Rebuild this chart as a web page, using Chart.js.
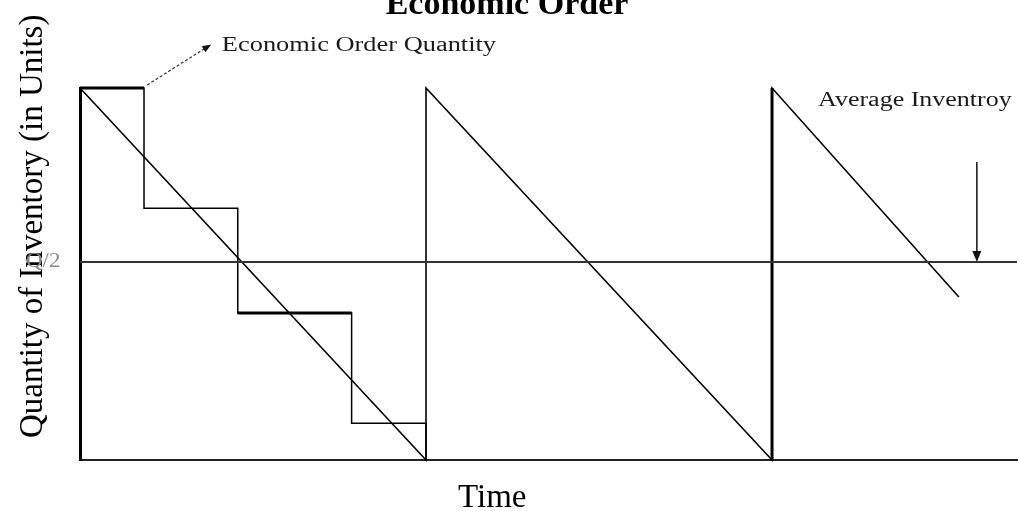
<!DOCTYPE html>
<html>
<head>
<meta charset="utf-8">
<script src="https://cdn.jsdelivr.net/npm/chart.js@4.4.0/dist/chart.umd.min.js"></script>
<style>
  html, body { margin: 0; padding: 0; background: #fff; }
  #wrap { width: 1019px; height: 511px; position: relative; }
</style>
</head>
<body>
<div id="wrap"><canvas id="myChart" width="1019" height="511"></canvas></div>
<script>
// Niveau de stock dans le temps (Q = 1)
const sawTime = [0, 1, 1, 2, 2, 2.54];
const sawLevel = [1, 0, 1, 0, 1, 0.438];

// stock par paliers pendant le premier cycle
const stepTime = [0, 0.185, 0.456, 0.785, 1];
const stepLevel = [1, 0.677, 0.395, 0.099, 0];

// morceaux plus épais des paliers
const boldTime = [0, 0.185, 0.32, 0.456, 0.785];
const boldLevel = [1, 1, null, 0.395, 0.395];

// réapprovisionnement du 2e cycle (trait épais)
const jumpTime = [2, 2];
const jumpLevel = [0, 1];

// stock moyen Q/2
const halfTime = [0, 2.708];
const halfLevel = [0.532, 0.532];

// textes
const chartTitle = "Economic Order";
const xTitle = "Time";
const yTitle = "Quantity of Inventory (in Units)";
const eoqLabel = "Economic Order Quantity";
const avgLabel = "Average Inventroy";
const halfLabel = "Q/2";

const ctx = document.querySelector("#myChart").getContext("2d");

function toPoints(xs, ys) {
  return xs.map((x, i) => ({ x: x, y: ys[i] }));
}

function wideText(c, s, x, y, sx) {
  c.save();
  c.translate(x, y);
  c.scale(sx, 1);
  c.fillText(s, 0, 0);
  c.restore();
}

// textes et flèches posés sur les échelles
const textPlugin = {
  id: "textPlugin",
  afterDraw(chart) {
    const c = chart.ctx;
    const px = (v) => chart.scales.x.getPixelForValue(v);
    const py = (v) => chart.scales.y.getPixelForValue(v);
    c.save();
    c.fillStyle = "#000";
    c.textBaseline = "alphabetic";

    c.font = 'bold 34px "Liberation Serif"';
    c.textAlign = "center";
    c.fillText(chartTitle, 507, 14);

    c.font = '33px "Liberation Serif"';
    c.textAlign = "left";
    c.fillText(xTitle, 458, 507);

    c.save();
    c.translate(42, 438);
    c.rotate(-Math.PI / 2);
    c.fillText(yTitle, 0, 0);
    c.restore();

    // Q/2
    c.fillStyle = "#888";
    c.font = '20px "Liberation Serif"';
    wideText(c, halfLabel, 26, py(halfLevel[0]) + 5, 1.15);

    // annotations
    c.fillStyle = "#1a1a1a";
    c.font = '20px "Liberation Serif"';
    wideText(c, eoqLabel, px(0.41), py(1.1), 1.32);
    wideText(c, avgLabel, px(2.133), py(0.952), 1.3);

    // flèche EOQ
    const x1 = px(0.194), y1 = py(1.008), x2 = px(0.367), y2 = py(1.11);
    c.strokeStyle = "#333";
    c.lineWidth = 1.2;
    c.setLineDash([3, 2]);
    c.beginPath();
    c.moveTo(x1, y1);
    c.lineTo(x2, y2);
    c.stroke();
    c.setLineDash([]);
    const a = Math.atan2(y2 - y1, x2 - x1);
    c.fillStyle = "#111";
    c.beginPath();
    c.moveTo(x2 + 5 * Math.cos(a), y2 + 5 * Math.sin(a));
    c.lineTo(x2 - 4 * Math.cos(a) - 3.5 * Math.sin(a), y2 - 4 * Math.sin(a) + 3.5 * Math.cos(a));
    c.lineTo(x2 - 4 * Math.cos(a) + 3.5 * Math.sin(a), y2 - 4 * Math.sin(a) - 3.5 * Math.cos(a));
    c.closePath();
    c.fill();

    // flèche stock moyen
    const ax = px(2.592), ayTop = py(0.801), ayTip = py(halfLevel[0]);
    c.strokeStyle = "#111";
    c.lineWidth = 1.5;
    c.beginPath();
    c.moveTo(ax, ayTop);
    c.lineTo(ax, ayTip - 10);
    c.stroke();
    c.beginPath();
    c.moveTo(ax, ayTip);
    c.lineTo(ax - 4.5, ayTip - 11);
    c.lineTo(ax + 4.5, ayTip - 11);
    c.closePath();
    c.fill();

    c.restore();
  },
};

const CONFIG = {
  type: "line",
  data: {
    datasets: [
      {
        data: toPoints(halfTime, halfLevel),
        borderColor: "#333",
        borderWidth: 2,
      },
      {
        data: toPoints(sawTime, sawLevel),
        borderColor: "#000",
        borderWidth: 1.6,
      },
      {
        data: toPoints(stepTime, stepLevel),
        borderColor: "#000",
        borderWidth: 1.5,
        stepped: "before",
      },
      {
        data: toPoints(boldTime, boldLevel),
        borderColor: "#000",
        borderWidth: 3,
        spanGaps: false,
      },
      {
        data: toPoints(jumpTime, jumpLevel),
        borderColor: "#000",
        borderWidth: 3,
      },
    ],
  },
  options: {
    responsive: false,
    animation: false,
    devicePixelRatio: 1,
    layout: { padding: { left: 80, top: 88, right: 2, bottom: 51 } },
    elements: {
      point: { radius: 0, hoverRadius: 0 },
      line: { tension: 0, fill: false },
    },
    datasets: { line: { clip: false } },
    scales: {
      x: {
        type: "linear",
        min: 0,
        max: 2.708,
        ticks: { display: false },
        grid: { display: false, drawTicks: false },
        border: { display: true, color: "#222", width: 2 },
      },
      y: {
        type: "linear",
        min: 0,
        max: 1,
        ticks: { display: false },
        grid: { display: false, drawTicks: false },
        border: { display: true, color: "#000", width: 3 },
      },
    },
    plugins: {
      legend: { display: false },
      tooltip: { enabled: false },
      title: { display: false },
    },
  },
  plugins: [textPlugin],
};

const chartLine = new Chart(ctx, CONFIG);
</script>
</body>
</html>
